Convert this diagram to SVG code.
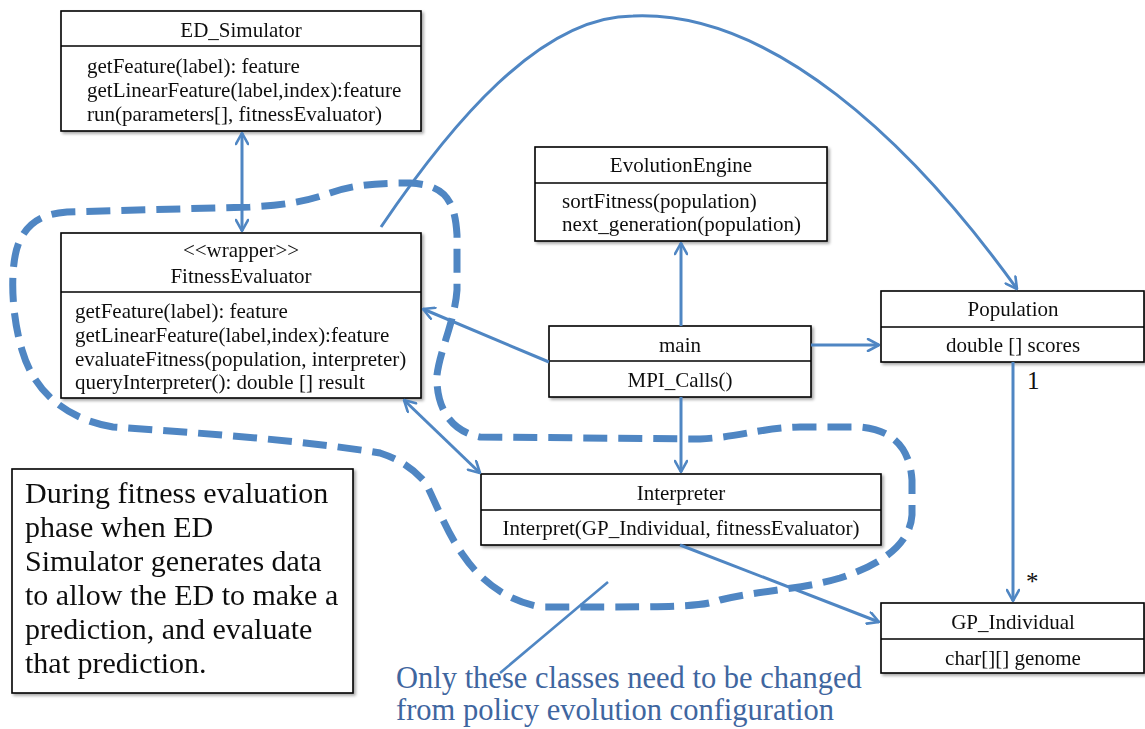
<svg xmlns="http://www.w3.org/2000/svg" width="1145" height="729" viewBox="0 0 1145 729">
  <defs>
    <filter id="shadow" x="-5%" y="-10%" width="115%" height="130%">
      <feGaussianBlur in="SourceAlpha" stdDeviation="1.5"/>
      <feOffset dx="2" dy="2" result="b"/>
      <feComponentTransfer><feFuncA type="linear" slope="0.35"/></feComponentTransfer>
      <feMerge><feMergeNode/><feMergeNode in="SourceGraphic"/></feMerge>
    </filter>
    <marker id="arrow" viewBox="0 0 14 14" refX="13" refY="7" markerWidth="14" markerHeight="14" markerUnits="userSpaceOnUse" orient="auto-start-reverse">
      <path d="M2,1 L13,7 L2,13" fill="none" stroke="#4f86c3" stroke-width="2.6" stroke-linecap="round" stroke-linejoin="round"/>
    </marker>
    <style>
      .box { fill: #ffffff; stroke: #000000; stroke-width: 1.6; }
      .div { stroke: #000000; stroke-width: 1.6; }
      .t { font-family: "Liberation Serif", "Times New Roman", serif; font-size: 21px; fill: #111111; }
      .c { text-anchor: middle; }
      .conn { fill: none; stroke: #4f86c3; stroke-width: 3; }
      .loop { fill: none; stroke: #4f86c3; stroke-width: 7; stroke-dasharray: 24 11; }
      .note { font-family: "Liberation Serif", "Times New Roman", serif; font-size: 30px; fill: #111111; }
      .hint { font-family: "Liberation Serif", "Times New Roman", serif; font-size: 30.5px; fill: #3f669f; }
    </style>
  </defs>

  <rect width="1145" height="729" fill="#ffffff"/>

  <!-- ED_Simulator -->
  <g id="ed-simulator" filter="url(#shadow)">
    <rect class="box" x="61" y="11" width="360" height="120"/>
    <line class="div" x1="61" y1="46" x2="421" y2="46"/>
    <text class="t c" x="241" y="37">ED_Simulator</text>
    <text class="t" x="87" y="73">getFeature(label): feature</text>
    <text class="t" x="87" y="97">getLinearFeature(label,index):feature</text>
    <text class="t" x="87" y="121">run(parameters[], fitnessEvaluator)</text>
  </g>

  <!-- FitnessEvaluator -->
  <g id="fitness-evaluator" filter="url(#shadow)">
    <rect class="box" x="61" y="233" width="360" height="165"/>
    <line class="div" x1="61" y1="292" x2="421" y2="292"/>
    <text class="t c" x="241" y="257">&lt;&lt;wrapper&gt;&gt;</text>
    <text class="t c" x="241" y="283">FitnessEvaluator</text>
    <text class="t" x="75" y="318">getFeature(label): feature</text>
    <text class="t" x="75" y="342">getLinearFeature(label,index):feature</text>
    <text class="t" x="75" y="366">evaluateFitness(population, interpreter)</text>
    <text class="t" x="75" y="389">queryInterpreter(): double [] result</text>
  </g>

  <!-- EvolutionEngine -->
  <g id="evolution-engine" filter="url(#shadow)">
    <rect class="box" x="535" y="147" width="292" height="94"/>
    <line class="div" x1="535" y1="183" x2="827" y2="183"/>
    <text class="t c" x="681" y="172">EvolutionEngine</text>
    <text class="t" x="562" y="208">sortFitness(population)</text>
    <text class="t" x="562" y="231">next_generation(population)</text>
  </g>

  <!-- main -->
  <g id="main" filter="url(#shadow)">
    <rect class="box" x="549" y="326" width="262" height="71"/>
    <line class="div" x1="549" y1="361" x2="811" y2="361"/>
    <text class="t c" x="680" y="352">main</text>
    <text class="t c" x="680" y="387">MPI_Calls()</text>
  </g>

  <!-- Population -->
  <g id="population" filter="url(#shadow)">
    <rect class="box" x="881" y="291" width="263" height="71"/>
    <line class="div" x1="881" y1="327" x2="1144" y2="327"/>
    <text class="t c" x="1013" y="316">Population</text>
    <text class="t c" x="1013" y="352">double [] scores</text>
  </g>

  <!-- Interpreter -->
  <g id="interpreter" filter="url(#shadow)">
    <rect class="box" x="481" y="474" width="400" height="71"/>
    <line class="div" x1="481" y1="510" x2="881" y2="510"/>
    <text class="t c" x="681" y="500">Interpreter</text>
    <text class="t c" x="681" y="535">Interpret(GP_Individual, fitnessEvaluator)</text>
  </g>

  <!-- GP_Individual -->
  <g id="gp-individual" filter="url(#shadow)">
    <rect class="box" x="881" y="603" width="263" height="70"/>
    <line class="div" x1="881" y1="639" x2="1144" y2="639"/>
    <text class="t c" x="1013" y="629">GP_Individual</text>
    <text class="t c" x="1013" y="665">char[][] genome</text>
  </g>

  <!-- Explanatory note -->
  <g id="note" filter="url(#shadow)">
    <rect class="box" x="12" y="469" width="341" height="224"/>
    <text class="note" x="25" y="503">During fitness evaluation</text>
    <text class="note" x="25" y="537">phase when ED</text>
    <text class="note" x="25" y="571">Simulator generates data</text>
    <text class="note" x="25" y="605">to allow the ED to make a</text>
    <text class="note" x="25" y="639">prediction, and evaluate</text>
    <text class="note" x="25" y="673">that prediction.</text>
  </g>

  <!-- Connectors -->
  <g id="connectors">
    <line class="conn" x1="242" y1="133" x2="242" y2="231" marker-start="url(#arrow)" marker-end="url(#arrow)"/>
    <line class="conn" x1="681" y1="326" x2="681" y2="243" marker-end="url(#arrow)"/>
    <line class="conn" x1="811" y1="345" x2="879" y2="345" marker-end="url(#arrow)"/>
    <line class="conn" x1="549" y1="362" x2="423" y2="309" marker-end="url(#arrow)"/>
    <line class="conn" x1="681" y1="397" x2="681" y2="472" marker-end="url(#arrow)"/>
    <line class="conn" x1="404" y1="400" x2="480" y2="473" marker-start="url(#arrow)" marker-end="url(#arrow)"/>
    <line class="conn" x1="680" y1="545" x2="879" y2="622" marker-end="url(#arrow)"/>
    <line class="conn" x1="1013" y1="362" x2="1013" y2="601" marker-end="url(#arrow)"/>
    <path class="conn" d="M381,227 C450,125 540,16 633,16 C770,10 910,140 1017,289" marker-end="url(#arrow)"/>
    <text class="t" x="1027" y="389" style="font-size:25px">1</text>
    <text class="t" x="1026" y="590" style="font-size:25px">*</text>
  </g>

  <!-- Dashed boundary around the changeable classes -->
  <g id="boundary">
    <path class="loop" d="M113,427 C70,420 35,395 22,350 C10,310 10,260 20,240 C30,220 45,214 67,212 L250,207 C290,205 310,200 330,193 C350,186 370,183 410,183 C445,185 455,200 457,235 L457,290 C455,320 440,350 437,375 C436,400 445,430 480,437 L700,439 C740,437 760,428 800,427 L860,427 C895,430 910,450 912,480 L912,515 C910,545 880,565 840,578 C800,590 760,590 720,600 C700,607 680,607 540,607 C505,600 480,580 463,555 C445,530 435,500 425,482 C410,465 395,458 380,453 C300,440 200,433 113,427 Z"/>
  </g>

  <!-- Callout -->
  <g id="callout">
    <line x1="500" y1="673" x2="608" y2="582" stroke="#4f86c3" stroke-width="2.5"/>
    <text class="hint" x="396" y="688">Only these classes need to be changed</text>
    <text class="hint" x="396" y="720">from policy evolution configuration</text>
  </g>
</svg>
